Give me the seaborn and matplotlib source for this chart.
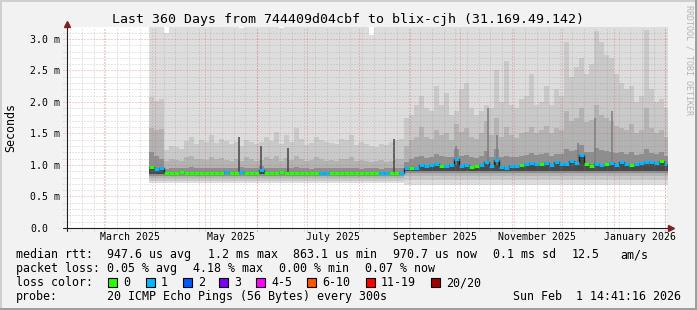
import numpy as np
import pandas as pd
import matplotlib
matplotlib.use("Agg")
import matplotlib.pyplot as plt
import seaborn as sns
from matplotlib.patches import Rectangle

# ---------------- data (values in ms) ----------------
title = "Last 360 Days from 744409d04cbf to blix-cjh (31.169.49.142)"
t_end = pd.Timestamp("2026-02-01 14:41:16")
span_days = 360
first_bin_day = 49.5      # first data bin, days after the window start
bin_days = 3.0

median = [
    0.97, 0.94, 0.95, 0.87, 0.88, 0.88, 0.89, 0.88, 0.88, 0.87,
    0.88, 0.88, 0.88, 0.88, 0.88, 0.89, 0.88, 0.88, 0.89, 0.88,
    0.87, 0.88, 0.92, 0.88, 0.88, 0.88, 0.89, 0.88, 0.88, 0.88,
    0.88, 0.88, 0.87, 0.88, 0.87, 0.87, 0.88, 0.88, 0.88, 0.88,
    0.88, 0.88, 0.87, 0.87, 0.88, 0.88, 0.87, 0.88, 0.88, 0.87,
    0.88, 0.96, 0.95, 0.96, 1.00, 0.98, 1.00, 1.02, 0.99, 0.98,
    1.00, 1.10, 0.99, 1.00, 0.97, 0.99, 1.00, 1.04, 0.98, 1.08,
    0.97, 0.96, 0.99, 0.98, 1.00, 1.02, 1.03, 1.02, 1.01, 1.03,
    1.00, 1.04, 1.02, 1.01, 1.06, 1.03, 1.16, 1.02, 0.98, 1.01,
    1.00, 1.02, 1.03, 1.00, 1.05, 1.02, 1.00, 1.01, 1.03, 1.04,
    1.05, 1.03, 1.06, 1.02,
]
loss = [
    0, 1, 1, 0, 0, 0, 0, 0, 0, 0,
    0, 0, 0, 0, 0, 1, 0, 0, 1, 0,
    0, 0, 1, 0, 0, 0, 0, 0, 0, 0,
    0, 0, 0, 0, 1, 1, 0, 0, 0, 0,
    0, 0, 0, 0, 0, 0, 1, 1, 0, 0,
    1, 1, 0, 1, 1, 1, 1, 1, 0, 1,
    1, 1, 1, 1, 0, 0, 1, 1, 1, 1,
    1, 1, 1, 1, 0, 1, 1, 1, 0, 1,
    1, 1, 1, 1, 1, 1, 1, 0, 0, 1,
    1, 0, 1, 1, 1, 1, 0, 1, 1, 1,
    1, 1, 0, 1,
]
smoke_max = [
    3.30, 3.30, 3.30, 3.10, 3.30, 3.30, 3.30, 3.30, 3.30, 3.30,
    3.30, 3.30, 3.30, 3.30, 3.30, 3.30, 3.30, 3.30, 3.17, 3.30,
    3.30, 3.30, 3.30, 3.30, 3.30, 3.30, 3.17, 3.30, 3.30, 3.30,
    3.30, 3.30, 3.30, 3.30, 3.30, 3.30, 3.30, 3.30, 3.30, 3.30,
    3.30, 3.30, 3.30, 3.30, 3.07, 3.30, 3.30, 3.30, 3.30, 3.30,
    3.30, 3.30, 3.30, 3.30, 3.30, 3.30, 3.30, 3.30, 3.30, 3.30,
    3.30, 3.30, 3.30, 3.30, 3.30, 3.30, 3.30, 3.30, 3.30, 3.30,
    3.30, 3.30, 3.30, 3.30, 3.30, 3.30, 3.30, 3.30, 3.30, 3.30,
    3.30, 3.30, 3.30, 3.30, 3.30, 3.30, 3.30, 3.30, 3.30, 3.30,
    3.30, 3.30, 3.30, 3.30, 3.30, 3.30, 3.30, 3.30, 3.30, 3.30,
    3.30, 3.30, 3.30, 3.30,
]
smoke_light = [
    2.08, 2.02, 2.05, 1.24, 1.30, 1.28, 1.25, 1.38, 1.44, 1.33,
    1.40, 1.36, 1.47, 1.35, 1.42, 1.38, 1.33, 1.36, 1.30, 1.40,
    1.37, 1.33, 1.36, 1.44, 1.38, 1.52, 1.33, 1.47, 1.36, 1.58,
    1.42, 1.32, 1.35, 1.45, 1.40, 1.37, 1.35, 1.34, 1.42, 1.40,
    1.48, 1.32, 1.36, 1.34, 1.30, 1.28, 1.33, 1.31, 1.36, 1.40,
    1.42, 1.75, 1.80, 1.95, 2.10, 1.90, 1.85, 2.25, 1.95, 2.15,
    1.80, 1.85, 2.20, 2.30, 1.90, 1.80, 1.85, 1.95, 1.90, 2.50,
    2.00, 2.65, 1.95, 1.90, 2.05, 2.10, 2.45, 1.95, 2.00, 2.25,
    1.95, 2.20, 2.10, 2.95, 2.40, 2.55, 2.70, 2.45, 2.60, 3.12,
    2.95, 2.75, 2.70, 2.45, 2.30, 2.20, 2.25, 2.00, 2.10, 3.15,
    2.20, 2.00, 2.05, 1.90,
]
smoke_mid = [
    1.58, 1.55, 1.57, 1.06, 1.10, 1.08, 1.07, 1.12, 1.15, 1.09,
    1.10, 1.08, 1.13, 1.09, 1.11, 1.08, 1.06, 1.10, 1.07, 1.12,
    1.09, 1.06, 1.08, 1.12, 1.10, 1.14, 1.07, 1.11, 1.08, 1.15,
    1.10, 1.06, 1.08, 1.12, 1.09, 1.07, 1.08, 1.06, 1.10, 1.09,
    1.13, 1.06, 1.08, 1.07, 1.05, 1.06, 1.08, 1.05, 1.07, 1.09,
    1.10, 1.30, 1.40, 1.45, 1.60, 1.45, 1.42, 1.55, 1.48, 1.50,
    1.40, 1.65, 1.52, 1.58, 1.45, 1.42, 1.50, 1.70, 1.48, 1.75,
    1.45, 1.60, 1.47, 1.43, 1.50, 1.52, 1.60, 1.50, 1.55, 1.62,
    1.50, 1.58, 1.55, 1.85, 1.70, 1.75, 1.90, 1.68, 1.72, 1.95,
    1.80, 1.75, 1.70, 1.62, 1.58, 1.55, 1.65, 1.50, 1.55, 1.90,
    1.58, 1.50, 1.55, 1.45,
]
smoke_dark = [
    1.20, 1.15, 1.10, 0.94, 0.95, 0.96, 0.95, 0.96, 0.97, 0.95,
    0.96, 0.95, 0.96, 0.95, 0.95, 0.96, 0.95, 0.95, 0.97, 0.96,
    0.95, 0.95, 0.98, 0.96, 0.95, 0.96, 0.95, 0.96, 0.95, 0.97,
    0.96, 0.95, 0.94, 0.96, 0.95, 0.95, 0.96, 0.95, 0.95, 0.96,
    0.96, 0.95, 0.94, 0.95, 0.95, 0.95, 0.94, 0.95, 0.95, 0.95,
    0.96, 1.05, 1.10, 1.12, 1.15, 1.11, 1.13, 1.17, 1.14, 1.13,
    1.12, 1.26, 1.14, 1.16, 1.12, 1.11, 1.15, 1.22, 1.13, 1.25,
    1.12, 1.15, 1.13, 1.12, 1.14, 1.16, 1.19, 1.16, 1.17, 1.19,
    1.15, 1.18, 1.17, 1.26, 1.22, 1.24, 1.32, 1.21, 1.20, 1.27,
    1.24, 1.22, 1.21, 1.19, 1.20, 1.17, 1.21, 1.16, 1.18, 1.26,
    1.19, 1.17, 1.20, 1.15,
]
# two regimes (before / after the step in late August) and their smoke floors
seg_len = [51, 53]
floor_max = [0.71, 0.69]
floor_light = [0.75, 0.76]
floor_mid = [0.79, 0.82]
floor_dark = [0.83, 0.87]
floor_core = [0.85, 0.91]

# isolated short spikes of dark smoke
spike_day = [103.5, 116.7, 132.9, 196.5, 233.5, 252.7, 258.5, 307.1, 317.1, 327.1]
spike_base = [0.88, 0.88, 0.88, 0.88, 1.00, 1.00, 1.00, 1.02, 1.02, 1.02]
spike_top = [1.44, 1.30, 1.27, 1.41, 1.30, 1.90, 1.48, 1.35, 1.75, 1.85]

loss_limit = [0, 1, 2, 3, 5, 10, 19, 20]
loss_label = ["0", "1", "2", "3", "4-5", "6-10", "11-19", "20/20"]
loss_color = ["#26ff00", "#00b8ff", "#0059ff", "#7e00ff", "#ff00ff", "#ff5500", "#ff0000", "#a10000"]

month_labels = ["March 2025", "May 2025", "July 2025", "September 2025", "November 2025", "January 2026"]
ytick_vals = [0.0, 0.5, 1.0, 1.5, 2.0, 2.5, 3.0]
ytick_text = ["0.0", "0.5 m", "1.0 m", "1.5 m", "2.0 m", "2.5 m", "3.0 m"]

stat_lines = [
    ("median rtt:", [(107, "947.6 us avg"), (208, "1.2 ms max"), (293, "863.1 us min"),
                     (393, "970.7 us now"), (493, "0.1 ms sd"), (572, "12.5"), (620, "am/s")]),
    ("packet loss:", [(107, "0.05 % avg"), (193, "4.18 % max"), (279, "0.00 % min"), (365, "0.07 % now")]),
]
probe_text = "20 ICMP Echo Pings (56 Bytes) every 300s"
stamp_text = "Sun Feb  1 14:41:16 2026"

# ---------------- figure ----------------
sns.set_theme(style="white")
plt.rcParams["font.family"] = ["DejaVu Sans Mono"]

W, H = 697, 310
BG = "#f2f2f2"
fig = plt.figure(figsize=(W / 100, H / 100), dpi=100, facecolor=BG)
L, R, T, B = 66.5, 666.5, 27, 228
ax = fig.add_axes([L / W, 1 - B / H, (R - L) / W, (B - T) / H])
ax.set_facecolor("white")
for s in ax.spines.values():
    s.set_visible(False)

t_start = t_end - pd.Timedelta(days=span_days)


def to_day(ts):
    return (ts - t_start) / pd.Timedelta(days=1)


n = len(median)
edges = first_bin_day + bin_days * np.arange(n + 1)


def ext(a):
    a = np.asarray(a, dtype=float)
    return np.append(a, a[-1])


def band(lo, hi, color, z):
    ax.fill_between(edges, ext(lo), ext(hi), step="post", color=color, lw=0, zorder=z)


band(np.repeat(floor_max, seg_len), smoke_max, "#dddddd", 1)
band(np.repeat(floor_light, seg_len), smoke_light, "#c9c9c9", 2)
band(np.repeat(floor_mid, seg_len), smoke_mid, "#b3b3b3", 3)
band(np.repeat(floor_dark, seg_len), smoke_dark, "#8e8e8e", 3.5)
band(np.repeat(floor_core, seg_len), median, "#4a4a4a", 3.7)
spike_cols = ["#444444" if d < 200 else "#7c7c7c" for d in spike_day]
ax.vlines(spike_day, spike_base, spike_top, colors=spike_cols, lw=1.1, zorder=3.8)

# grid (rrdtool style dotted, drawn over the smoke)
GRID = (0.56, 0.56, 0.56, 0.45)
MGRID = (0.87, 0.31, 0.31, 0.55)
dots = (0, (1, 2))
gkw = dict(lw=0.72, ls=dots, clip_on=False)
month_starts = pd.date_range("2025-03-01", "2026-02-01", freq="MS")
weeks = pd.date_range("2025-02-09", "2026-02-01", freq="W-SUN")
for d in weeks:
    ax.axvline(to_day(d), ymin=-0.014, color=GRID, zorder=4, **gkw)
for d in month_starts:
    ax.axvline(to_day(d), ymin=-0.014, color=MGRID, zorder=4.1, **gkw)
for k in range(1, 32):
    v = k / 10
    major = (k % 5 == 0)
    ax.axhline(v, xmin=-0.006, color=MGRID if major else GRID,
               zorder=4.1 if major else 4, **gkw)

# median: dark step line + loss-coloured pieces
med_df = pd.DataFrame({"day": edges, "rtt": ext(median)})
sns.lineplot(data=med_df, x="day", y="rtt", drawstyle="steps-post", color="#1e1e1e",
             lw=1.0, ax=ax, zorder=6, estimator=None, sort=False)


def color_for(l):
    for lim, c in zip(loss_limit, loss_color):
        if l <= lim:
            return c
    return loss_color[-1]


ax.hlines(median, edges[:-1], edges[1:], colors=[color_for(l) for l in loss], lw=2.2, zorder=7)

ax.set_xlim(0, span_days)
ax.set_ylim(0, 3.19)
ax.set_xlabel("")
ax.set_ylabel("")

# axis lines + arrows
AXC = "#1f1f1f"
ARC = "#801f1f"
ax.plot([-0.006, 1.003], [0, 0], transform=ax.transAxes, color=AXC, lw=0.8, clip_on=False, zorder=9)
ax.plot([0, 0], [-0.015, 1.0], transform=ax.transAxes, color=AXC, lw=0.8, clip_on=False, zorder=9)
ax.plot([1.0068], [0], marker=">", ms=4.5, color=ARC, mec=ARC, transform=ax.transAxes, clip_on=False, zorder=9)
ax.plot([0], [1.016], marker="^", ms=4.5, color=ARC, mec=ARC, transform=ax.transAxes, clip_on=False, zorder=9)

# ticks / labels
label_pos = []
for lab in month_labels:
    m0 = pd.Timestamp(pd.to_datetime(lab, format="%B %Y"))
    m1 = m0 + pd.offsets.MonthBegin(1)
    label_pos.append((to_day(m0) + to_day(m1)) / 2)
ax.set_xticks(label_pos)
ax.set_xticklabels(month_labels)
ax.set_yticks(ytick_vals)
ax.set_yticklabels(ytick_text)
ax.tick_params(axis="x", length=0, pad=3.2, labelsize=7.1, labelcolor="black")
ax.tick_params(axis="y", length=0, pad=26.3, labelsize=7.1, labelcolor="black")
for t in ax.get_yticklabels():
    t.set_ha("left")

# texts


def ftext(x, y, s, **kw):
    kw.setdefault("fontsize", 8.4)
    kw.setdefault("color", "black")
    fig.text(x / W, 1 - y / H, s, **kw)


ftext(W / 2, 19, title, ha="center", va="center", fontsize=9.5)
ftext(11, 127.5, "Seconds", rotation=90, ha="center", va="center", fontsize=8.4)
ftext(689, 5, "RRDTOOL / TOBI OETIKER", rotation=270, ha="center", va="top", fontsize=6, color="#b4b4b4")

rows_y = [254.5, 268.5, 282.5, 296.5]
for (head, items), y in zip(stat_lines, rows_y[:2]):
    ftext(16, y, head, va="center")
    for x, s in items:
        ftext(x, y, s, va="center")

ftext(16, rows_y[2], "loss color:", va="center")
box_x = [108, 146, 183, 219, 256, 307, 366, 431]
for bx, c, lab in zip(box_x, loss_color, loss_label):
    fig.add_artist(Rectangle((bx / W, 1 - (rows_y[2] + 4.5) / H), 8.5 / W, 9 / H,
                             transform=fig.transFigure, facecolor=c, edgecolor="black", lw=0.8))
    ftext(bx + 15, rows_y[2], lab, va="center")

ftext(16, rows_y[3], "probe:", va="center")
ftext(107, rows_y[3], probe_text, va="center")
ftext(513, rows_y[3], stamp_text, va="center")

# 3D frame
fig.add_artist(Rectangle((0, 0), 2 / W, 1, transform=fig.transFigure, color="#cfcfcf", lw=0))
fig.add_artist(Rectangle((0, 1 - 2 / H), 1, 2 / H, transform=fig.transFigure, color="#cfcfcf", lw=0))
fig.add_artist(Rectangle((1 - 2 / W, 0), 2 / W, 1, transform=fig.transFigure, color="#9e9e9e", lw=0))
fig.add_artist(Rectangle((0, 0), 1, 2 / H, transform=fig.transFigure, color="#9e9e9e", lw=0))

fig.savefig("out.png", dpi=100, facecolor=BG)
